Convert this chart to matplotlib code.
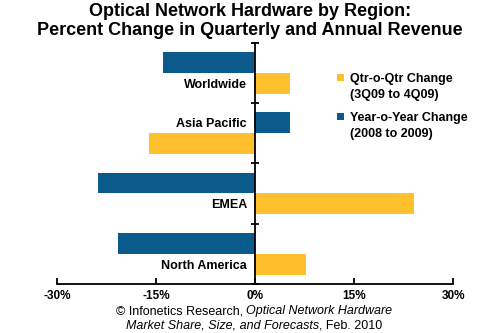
import matplotlib
matplotlib.use("Agg")
import matplotlib.pyplot as plt
from matplotlib.patches import Rectangle
import numpy as np

categories = ["Worldwide", "Asia Pacific", "EMEA", "North America"]
yoy_values = [-14.0, 5.3, -23.9, -20.8]     # Year-o-Year Change (2008 to 2009)
qoq_values = [5.3, -16.1, 24.0, 7.7]        # Qtr-o-Qtr Change (3Q09 to 4Q09)
xticks = [-30, -15, 0, 15, 30]
xtick_labels = ["-30%", "-15%", "0%", "15%", "30%"]
legend_labels = ["Qtr-o-Qtr Change\n(3Q09 to 4Q09)", "Year-o-Year Change\n(2008 to 2009)"]
title = "Optical Network Hardware by Region:\nPercent Change in Quarterly and Annual Revenue"

BLUE = "#0A5A8C"
YELLOW = "#FEC02D"
FONT = "Liberation Sans"

plt.rcParams['font.family'] = [FONT, 'DejaVu Sans']

fig = plt.figure(figsize=(5.0, 3.33), dpi=100)
W, H = 500, 333
ax_left, ax_right = 57.3, 453.3
ax_top, ax_bottom = 42.5, 284.0
ax = fig.add_axes([ax_left / W, 1 - ax_bottom / H, (ax_right - ax_left) / W, (ax_bottom - ax_top) / H])

n = len(categories)
pos = np.arange(n)
h = 0.345
off = 0.173
ax.barh(pos - off, yoy_values, height=h, color=BLUE, edgecolor='none')
ax.barh(pos + off, qoq_values, height=h, color=YELLOW, edgecolor='none')

ax.set_xlim(-30, 30)
ax.set_ylim(n - 0.5, -0.5)

for s in ['top', 'right']:
    ax.spines[s].set_visible(False)
ax.spines['left'].set_position(('data', 0))
ax.spines['left'].set_linewidth(1.3)
ax.spines['bottom'].set_linewidth(1.3)

ax.set_yticks(np.arange(-0.5, n, 1.0))
ax.set_yticklabels([])
ax.tick_params(axis='y', direction='inout', length=6, width=1.3)
ax.set_xticks(xticks)
ax.set_xticklabels(xtick_labels, fontsize=8.5, fontweight='bold')
ax.tick_params(axis='x', direction='in', length=4, width=1.3, pad=4)

# category labels placed beside the zero line at the positive bar
for i, cat in enumerate(categories):
    y = pos[i] + off if qoq_values[i] >= yoy_values[i] else pos[i] - off
    ax.annotate(cat, xy=(0, y), xytext=(-6, -1), textcoords='offset points',
                ha='right', va='center', fontsize=9, fontweight='bold')

# title
fig.text(0.5, 1 - 3 / H, title, ha='center', va='top', fontsize=13, fontweight='bold',
         linespacing=1.15)

# legend (manual)
leg_colors = [YELLOW, BLUE]
leg_y = [74, 113]
for c, lab, y in zip(leg_colors, legend_labels, leg_y):
    fig.patches.append(Rectangle((337 / W, 1 - (y + 7) / H), 7 / W, 7 / H,
                                 transform=fig.transFigure, facecolor=c, edgecolor='none'))
    fig.text(350 / W, 1 - (y - 1) / H, lab, ha='left', va='top', fontsize=9,
             fontweight='bold', linespacing=1.45)

# footer with mixed styles
footer_lines = [
    [("\u00a9 Infonetics Research, ", 'normal'), ("Optical Network Hardware", 'italic')],
    [("Market Share, Size, and Forecasts", 'italic'), (", Feb. 2010", 'normal')],
]
footer_y = [311, 326]
fig.canvas.draw()
renderer = fig.canvas.get_renderer()
cx = 254
for pieces, y in zip(footer_lines, footer_y):
    texts = []
    for txt, style in pieces:
        t = fig.text(0, 1 - y / H, txt, ha='left', va='center', fontsize=9, style=style)
        texts.append(t)
    widths = [t.get_window_extent(renderer).width for t in texts]
    x = cx - sum(widths) / 2
    for t, w in zip(texts, widths):
        t.set_x(x / W)
        x += w

fig.savefig("out.png", dpi=100)
